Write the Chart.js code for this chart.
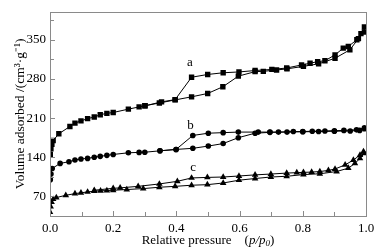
<!DOCTYPE html>
<html>
<head>
<meta charset="utf-8">
<script src="https://cdn.jsdelivr.net/npm/chart.js@4/dist/chart.umd.min.js"></script>
<style>
  html, body { margin: 0; padding: 0; background: #fff; }
  #wrap { width: 388px; height: 251px; position: relative; }
</style>
</head>
<body>
<div id="wrap"><canvas id="c"></canvas></div>
<script>
// sample a (squares)
const A_ADS_P = [0.001, 0.003, 0.006, 0.01, 0.028, 0.063, 0.079, 0.098, 0.119, 0.14, 0.159, 0.18, 0.2, 0.248, 0.282, 0.3, 0.346, 0.396, 0.448, 0.499, 0.547, 0.596, 0.649, 0.675, 0.717, 0.75, 0.802, 0.85, 0.902, 0.949, 0.976, 0.995];
const A_ADS_V = [145, 155, 163, 170, 182, 195, 201, 205, 209, 212, 216, 218.5, 220, 226, 230, 232, 237, 242.5, 248, 254, 266, 285, 293, 293.6, 296, 298, 302.5, 307, 317, 332, 352, 364];
const A_DES_P = [0.995, 0.984, 0.971, 0.944, 0.928, 0.902, 0.87, 0.847, 0.823, 0.796, 0.749, 0.702, 0.649, 0.598, 0.548, 0.499, 0.448, 0.396, 0.353, 0.301];
const A_DES_V = [373, 361, 350, 338, 335, 323, 312.5, 311, 308, 305, 299.5, 297, 295, 292.5, 291, 288, 283, 243, 239, 232];
// sample b (circles)
const B_ADS_P = [0.001, 0.003, 0.007, 0.032, 0.06, 0.079, 0.098, 0.119, 0.14, 0.159, 0.18, 0.2, 0.248, 0.282, 0.3, 0.348, 0.399, 0.452, 0.501, 0.548, 0.596, 0.649, 0.696, 0.75, 0.8, 0.85, 0.9, 0.95, 0.98, 0.995];
const B_ADS_V = [100, 110, 120, 129, 132, 135, 137, 138, 140, 141.6, 143.4, 145, 148, 148.7, 149, 151.5, 154, 156, 160, 164.5, 175, 183, 184.5, 185, 185.5, 186, 186.5, 187, 188, 191];
const B_DES_P = [0.995, 0.97, 0.93, 0.9, 0.87, 0.83, 0.8, 0.77, 0.723, 0.696, 0.659, 0.596, 0.548, 0.501, 0.452, 0.399, 0.348];
const B_DES_V = [192.5, 189, 188, 187.5, 187, 186.5, 186, 186, 185, 185, 185, 185, 184, 183, 179, 154, 151.5];
// sample c (triangles)
const C_ADS_P = [0.0, 0.002, 0.005, 0.01, 0.02, 0.05, 0.079, 0.098, 0.119, 0.14, 0.16, 0.18, 0.2, 0.243, 0.295, 0.346, 0.396, 0.448, 0.498, 0.548, 0.598, 0.649, 0.699, 0.749, 0.802, 0.854, 0.907, 0.944, 0.965, 0.981, 0.995];
const C_ADS_V = [42, 52, 60, 65, 68, 72, 75, 76.5, 78, 79.4, 80, 80.5, 81, 82.3, 84, 86.4, 88, 90, 91, 94, 99, 102, 104.7, 106, 109, 110.5, 114.5, 120.5, 129, 138, 147];
const C_DES_P = [0.992, 0.981, 0.96, 0.934, 0.902, 0.881, 0.854, 0.828, 0.802, 0.781, 0.749, 0.699, 0.649, 0.598, 0.548, 0.498, 0.448, 0.403, 0.346, 0.279, 0.222, 0.2, 0.14];
const C_DES_V = [150, 144, 135, 126.4, 119, 116.5, 114.5, 113.5, 113, 112.5, 111.7, 110, 108.5, 106.5, 104.7, 104, 103, 97, 92.3, 88, 85.3, 84.5, 81];

const X_TICKS = [0, 0.1, 0.2, 0.3, 0.4, 0.5, 0.6, 0.7, 0.8, 0.9, 1.0];
const X_LABELS = [0, 0.2, 0.4, 0.6, 0.8, 1.0];
const Y_TICKS = [35, 70, 105, 140, 175, 210, 245, 280, 315, 350, 385];
const Y_LABELS = [70, 140, 210, 280, 350];

const SERIES_NAMES = ['a', 'b', 'c'];
// where the curve letters sit, in data units
const NAME_POS = [[0.443, 309], [0.445, 197], [0.453, 121]];

const FONT = '"Liberation Serif", "Times New Roman", serif';
const AXIS_GREY = '#8a8a8a';

function pts(ps, vs) { return ps.map((p, i) => ({ x: p, y: vs[i] })); }

function serie(ads, des, style, r) {
  return {
    data: ads.concat(des),
    showLine: true,
    borderColor: '#000',
    borderWidth: 1,
    backgroundColor: '#000',
    pointBackgroundColor: '#000',
    pointBorderColor: '#000',
    pointBorderWidth: 0,
    pointStyle: style,
    pointRadius: r,
    tension: 0
  };
}

const decorPlugin = {
  id: 'decor',
  afterDraw(chart) {
    const { ctx, chartArea: a, scales } = chart;
    const xs = scales.x, ys = scales.y;
    ctx.save();
    ctx.strokeStyle = AXIS_GREY;
    ctx.lineWidth = 1;
    ctx.strokeRect(Math.round(a.left) + 0.5, Math.round(a.top) + 0.5,
      Math.round(a.right - a.left), Math.round(a.bottom - a.top));
    // inward tick marks
    ctx.beginPath();
    X_TICKS.forEach(v => {
      const px = Math.round(xs.getPixelForValue(v)) + 0.5;
      const len = X_LABELS.some(l => Math.abs(l - v) < 1e-9) ? 5 : 4;
      ctx.moveTo(px, a.bottom); ctx.lineTo(px, a.bottom - len);
    });
    Y_TICKS.forEach(v => {
      const py = Math.round(ys.getPixelForValue(v)) + 0.5;
      const len = Y_LABELS.includes(v) ? 5 : 4;
      ctx.moveTo(a.left, py); ctx.lineTo(a.left + len, py);
    });
    ctx.stroke();
    // curve letters
    ctx.fillStyle = '#000';
    ctx.font = '13px ' + FONT;
    ctx.textAlign = 'center';
    ctx.textBaseline = 'middle';
    SERIES_NAMES.forEach((n, i) => {
      ctx.fillText(n, xs.getPixelForValue(NAME_POS[i][0]), ys.getPixelForValue(NAME_POS[i][1]));
    });
    // x axis title with italic p/p0
    const y = a.bottom + 25;
    const parts = [
      ['Relative pressure', '13px ' + FONT, 0],
      ['    (', '13px ' + FONT, 0],
      ['p/p', 'italic 13px ' + FONT, 0],
      ['0', 'italic 9px ' + FONT, 3],
      [')', '13px ' + FONT, 0]
    ];
    let total = 0;
    parts.forEach(p => { ctx.font = p[1]; total += ctx.measureText(p[0]).width; });
    let x = (a.left + a.right) / 2 - total / 2;
    ctx.textAlign = 'left';
    ctx.textBaseline = 'middle';
    parts.forEach(p => {
      ctx.font = p[1];
      ctx.fillText(p[0], x, y + p[2]);
      x += ctx.measureText(p[0]).width;
    });
    ctx.restore();
  }
};

new Chart(document.getElementById('c'), {
  type: 'scatter',
  data: {
    datasets: [
      serie(pts(A_ADS_P, A_ADS_V), pts(A_DES_P, A_DES_V), 'rect', 3.8),
      serie(pts(B_ADS_P, B_ADS_V), pts(B_DES_P, B_DES_V), 'circle', 2.8),
      serie(pts(C_ADS_P, C_ADS_V), pts(C_DES_P, C_DES_V), 'triangle', 3.8)
    ]
  },
  options: {
    responsive: true,
    maintainAspectRatio: false,
    animation: false,
    layout: { padding: { left: 0, right: 22, top: 10, bottom: 0 } },
    plugins: { legend: { display: false }, tooltip: { enabled: false } },
    scales: {
      x: {
        type: 'linear', min: 0, max: 1,
        afterBuildTicks: s => { s.ticks = X_LABELS.map(v => ({ value: v })); },
        afterFit: s => { s.height = 35; },
        grid: { display: false, drawTicks: false },
        border: { display: false },
        ticks: {
          color: '#000', padding: 5,
          font: { family: FONT, size: 13 },
          maxRotation: 0, autoSkip: false,
          callback: v => Number(v).toFixed(1)
        }
      },
      y: {
        type: 'linear', min: 35, max: 400,
        afterBuildTicks: s => { s.ticks = Y_LABELS.map(v => ({ value: v })); },
        afterFit: s => { s.width = 50; },
        grid: { display: false, drawTicks: false },
        border: { display: false },
        ticks: {
          color: '#000', padding: 4,
          font: { family: FONT, size: 13 },
          callback: v => String(v)
        },
        title: {
          display: true,
          text: 'Volume adsorbed /(cm³·g⁻¹)',
          color: '#000',
          font: { family: FONT, size: 13.5 },
          padding: { top: 12, bottom: 0 }
        }
      }
    }
  },
  plugins: [decorPlugin]
});
</script>
</body>
</html>
